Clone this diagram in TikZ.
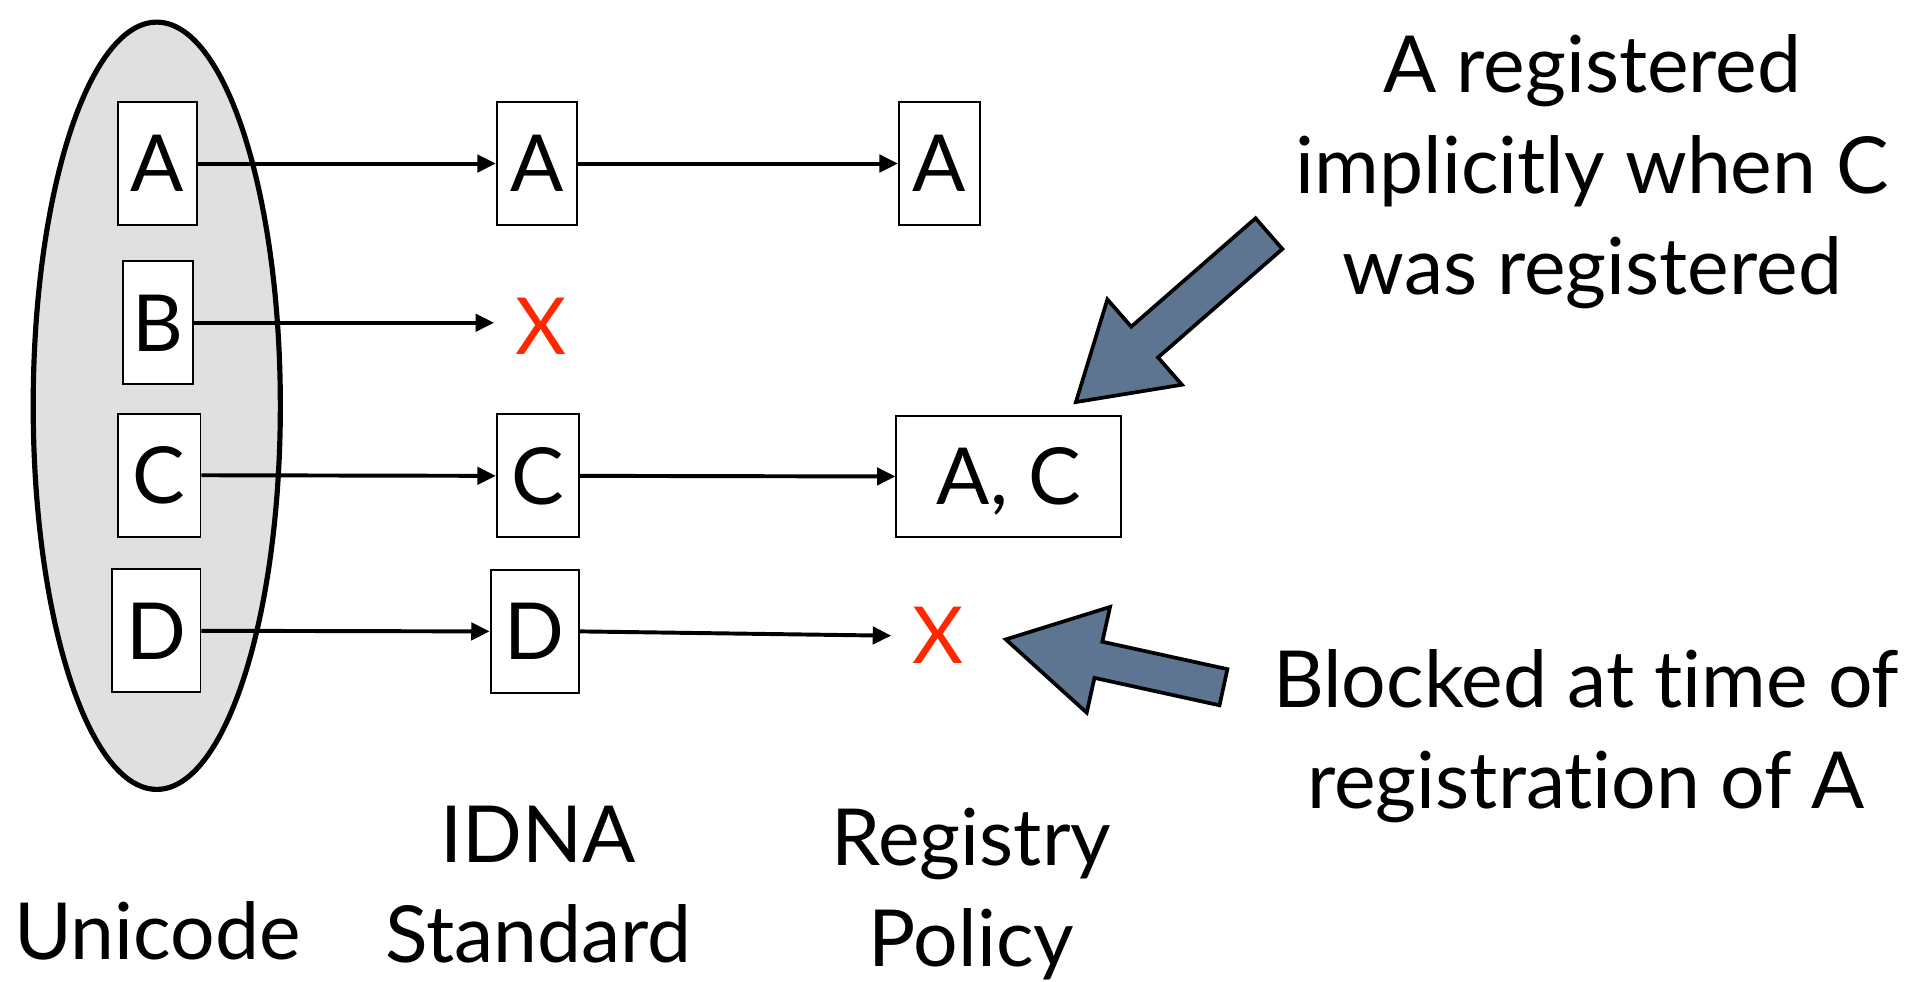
\documentclass[tikz,border=0pt]{standalone}
\usepackage{fontspec}
\setmainfont{Lato}[Ligatures=NoCommon]
\usetikzlibrary{arrows.meta,shapes.geometric}
\definecolor{xred}{RGB}{255,38,0}
\definecolor{slate}{RGB}{94,117,146}
\definecolor{ellgray}{RGB}{224,224,224}
\newcommand{\nolig}{\kern0pt }
\begin{document}
\begin{tikzpicture}[x=1pt,y=-1pt,
  every node/.style={font=\fontsize{64}{82}\selectfont, inner sep=0pt},
  letterbox/.style={draw, line width=1.5pt, fill=white, minimum height=100pt, text height=46pt, text depth=0pt},
  cross/.style={text=xred, minimum width=76pt, text height=46pt, text depth=0pt},
  conn/.style={line width=3.2pt, -{Triangle[length=15pt,width=14pt]}},
  bigarrow/.style={fill=slate, draw=black, line width=3pt, line join=miter},
  lbl/.style={align=center}
]
\useasboundingbox (0,0) rectangle (1568,798);

% Unicode set
\node[ellipse, draw, line width=4.2pt, fill=ellgray, minimum width=201pt, minimum height=624pt] (uni) at (127.5,330) {};

\node[letterbox, minimum width=64pt] (ua) at (128,133) {A};
\node[letterbox, minimum width=57pt] (ub) at (128.5,262.5) {B};
\node[letterbox, minimum width=67pt] (uc) at (129.5,386.5) {C};
\node[letterbox, minimum width=72pt] (ud) at (127,513) {D};

% IDNA column
\node[letterbox, minimum width=65pt] (ia) at (436.5,133) {A};
\node[cross] (ixb) at (440,265) {X};
\node[letterbox, minimum width=67pt] (ic) at (437.5,387) {C};
\node[letterbox, minimum width=72pt] (id) at (435,513.5) {D};

% Registry column
\node[letterbox, minimum width=66pt] (ra) at (764,133) {A};
\node[letterbox, minimum width=183pt, minimum height=99pt] (rac) at (820.5,387.5) {A, C};
\node[cross] (rx) at (763,517) {X};

% connectors
\draw[conn] (ua.east) -- (ia.west);
\draw[conn] (ub.east) -- (ub.east -| ixb.west);
\draw[conn] (uc.east) -- (ic.west);
\draw[conn] (ud.east) -- (id.west);
\draw[conn] (ia.east) -- (ra.west);
\draw[conn] (ic.east) -- (rac.west);
\draw[conn] (id.east) -- (rx.west);

% column labels
\node[anchor=base] (lu) at (128,780) {Unicode};
\node[lbl, anchor=north] (li) at (438,655) {IDNA\\Standard};
\node[lbl, anchor=north] (lr) at (790,657) {Registry\\Policy};

% annotations
\node[lbl, anchor=north] (t1) at (1295,28) {A registered\\implicitly when C\\was registered};
\node[lbl, anchor=north] (t2) at (1290,528) {Blocked at t\nolig ime of\\registrat\nolig ion of A};

% big arrows
\draw[bigarrow] (875,327) -- (961.2,312.9) -- (941.8,290.7) -- (1042.9,202.5) -- (1021.1,177.5) -- (920.0,265.7) -- (900.6,243.5) -- cycle;
\draw[bigarrow] (818,520) -- (883.8,579.6) -- (890.1,551.3) -- (991.8,573.6) -- (998.2,544.2) -- (896.5,521.9) -- (902.8,493.6) -- cycle;
\end{tikzpicture}
\end{document}
